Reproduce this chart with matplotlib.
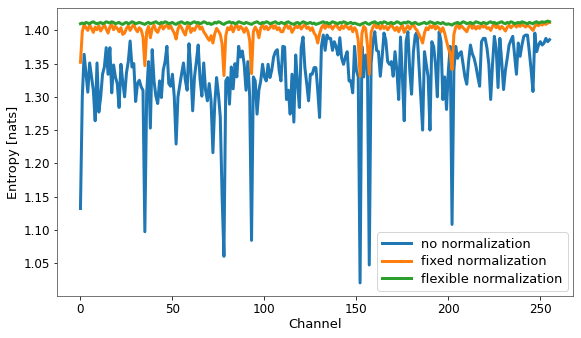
import matplotlib
matplotlib.use("Agg")
import matplotlib.pyplot as plt
import numpy as np

# Entropy per channel
no_norm = [
    1.132, 1.300, 1.364, 1.335, 1.307, 1.351, 1.330, 1.310, 1.264, 1.351, 1.277, 1.300, 1.334, 1.345, 1.374, 1.334,
    1.374, 1.306, 1.348, 1.330, 1.320, 1.284, 1.349, 1.322, 1.300, 1.336, 1.353, 1.384, 1.345, 1.350, 1.293, 1.320,
    1.325, 1.315, 1.310, 1.097, 1.305, 1.353, 1.253, 1.371, 1.324, 1.301, 1.290, 1.324, 1.299, 1.340, 1.353, 1.376,
    1.320, 1.316, 1.334, 1.300, 1.229, 1.300, 1.318, 1.335, 1.351, 1.325, 1.310, 1.380, 1.340, 1.279, 1.330, 1.353,
    1.378, 1.327, 1.301, 1.351, 1.310, 1.294, 1.320, 1.294, 1.216, 1.289, 1.329, 1.304, 1.270, 1.150, 1.060, 1.324,
    1.329, 1.289, 1.345, 1.312, 1.350, 1.330, 1.376, 1.360, 1.369, 1.349, 1.310, 1.353, 1.300, 1.084, 1.330, 1.324,
    1.274, 1.310, 1.324, 1.349, 1.330, 1.324, 1.349, 1.329, 1.340, 1.360, 1.368, 1.371, 1.340, 1.324, 1.376, 1.375,
    1.296, 1.310, 1.274, 1.334, 1.262, 1.363, 1.320, 1.284, 1.374, 1.390, 1.344, 1.320, 1.294, 1.334, 1.334, 1.344,
    1.344, 1.309, 1.269, 1.376, 1.393, 1.370, 1.393, 1.388, 1.388, 1.370, 1.383, 1.375, 1.363, 1.389, 1.358, 1.349,
    1.360, 1.368, 1.324, 1.324, 1.306, 1.376, 1.340, 1.330, 1.020, 1.376, 1.330, 1.363, 1.350, 1.047, 1.350, 1.383,
    1.398, 1.370, 1.368, 1.331, 1.360, 1.396, 1.385, 1.353, 1.349, 1.353, 1.331, 1.368, 1.340, 1.296, 1.390, 1.330,
    1.264, 1.383, 1.398, 1.340, 1.304, 1.368, 1.393, 1.397, 1.349, 1.300, 1.250, 1.368, 1.349, 1.330, 1.250, 1.383,
    1.376, 1.349, 1.300, 1.398, 1.383, 1.296, 1.330, 1.281, 1.340, 1.376, 1.108, 1.340, 1.376, 1.358, 1.365, 1.368,
    1.349, 1.330, 1.319, 1.353, 1.378, 1.365, 1.358, 1.346, 1.330, 1.316, 1.383, 1.388, 1.388, 1.373, 1.349, 1.296,
    1.349, 1.391, 1.373, 1.314, 1.388, 1.353, 1.311, 1.340, 1.358, 1.378, 1.385, 1.391, 1.363, 1.334, 1.381, 1.361,
    1.378, 1.391, 1.393, 1.393, 1.368, 1.340, 1.308, 1.396, 1.368, 1.378, 1.383, 1.378, 1.381, 1.388, 1.383, 1.386,
]

fixed_norm = [
    1.352, 1.398, 1.409, 1.404, 1.400, 1.408, 1.403, 1.397, 1.405, 1.401, 1.407, 1.399, 1.404, 1.408, 1.402, 1.396,
    1.405, 1.409, 1.401, 1.406, 1.403, 1.398, 1.404, 1.394, 1.396, 1.403, 1.407, 1.400, 1.405, 1.409, 1.402, 1.398,
    1.404, 1.401, 1.390, 1.347, 1.398, 1.406, 1.389, 1.403, 1.408, 1.400, 1.397, 1.404, 1.409, 1.402, 1.406, 1.408,
    1.403, 1.407, 1.401, 1.396, 1.387, 1.402, 1.408, 1.404, 1.398, 1.393, 1.405, 1.409, 1.397, 1.403, 1.400, 1.406,
    1.409, 1.402, 1.405, 1.398, 1.394, 1.389, 1.385, 1.392, 1.381, 1.395, 1.403, 1.399, 1.394, 1.380, 1.332, 1.392,
    1.404, 1.401, 1.407, 1.398, 1.405, 1.409, 1.401, 1.406, 1.403, 1.397, 1.404, 1.399, 1.385, 1.335, 1.398, 1.405,
    1.400, 1.389, 1.404, 1.408, 1.402, 1.406, 1.401, 1.404, 1.409, 1.403, 1.407, 1.401, 1.404, 1.398, 1.398, 1.405,
    1.409, 1.403, 1.406, 1.397, 1.402, 1.407, 1.404, 1.408, 1.402, 1.406, 1.409, 1.403, 1.405, 1.400, 1.404, 1.396,
    1.392, 1.381, 1.395, 1.404, 1.408, 1.403, 1.409, 1.405, 1.407, 1.402, 1.406, 1.409, 1.404, 1.401, 1.407, 1.403,
    1.408, 1.405, 1.402, 1.406, 1.398, 1.404, 1.400, 1.385, 1.331, 1.395, 1.406, 1.403, 1.378, 1.334, 1.397, 1.405,
    1.409, 1.404, 1.407, 1.402, 1.408, 1.403, 1.406, 1.401, 1.405, 1.409, 1.404, 1.400, 1.405, 1.398, 1.404, 1.408,
    1.397, 1.403, 1.407, 1.402, 1.406, 1.409, 1.403, 1.400, 1.394, 1.388, 1.381, 1.396, 1.404, 1.401, 1.407, 1.404,
    1.408, 1.402, 1.406, 1.403, 1.398, 1.404, 1.396, 1.384, 1.373, 1.365, 1.341, 1.394, 1.405, 1.408, 1.403, 1.407,
    1.404, 1.401, 1.398, 1.405, 1.409, 1.403, 1.407, 1.402, 1.406, 1.403, 1.409, 1.405, 1.407, 1.403, 1.404, 1.400,
    1.406, 1.409, 1.404, 1.407, 1.402, 1.406, 1.403, 1.399, 1.405, 1.408, 1.404, 1.407, 1.409, 1.405, 1.408, 1.406,
    1.409, 1.407, 1.405, 1.408, 1.406, 1.403, 1.400, 1.406, 1.409, 1.407, 1.410, 1.408, 1.411, 1.409, 1.411, 1.412,
]

flex_norm = [
    1.410, 1.411, 1.410, 1.412, 1.411, 1.410, 1.412, 1.413, 1.411, 1.410, 1.411, 1.412, 1.410, 1.411, 1.413, 1.412,
    1.411, 1.413, 1.412, 1.410, 1.411, 1.412, 1.410, 1.409, 1.411, 1.412, 1.410, 1.411, 1.413, 1.412, 1.410, 1.411,
    1.412, 1.411, 1.410, 1.409, 1.411, 1.412, 1.410, 1.411, 1.412, 1.413, 1.411, 1.410, 1.412, 1.411, 1.413, 1.412,
    1.410, 1.411, 1.412, 1.410, 1.409, 1.411, 1.412, 1.413, 1.411, 1.410, 1.412, 1.411, 1.410, 1.412, 1.413, 1.411,
    1.412, 1.410, 1.411, 1.413, 1.412, 1.410, 1.411, 1.409, 1.410, 1.412, 1.411, 1.413, 1.412, 1.410, 1.409, 1.411,
    1.412, 1.413, 1.411, 1.412, 1.410, 1.411, 1.413, 1.412, 1.411, 1.410, 1.412, 1.411, 1.410, 1.409, 1.411, 1.412,
    1.413, 1.411, 1.410, 1.412, 1.411, 1.413, 1.412, 1.410, 1.411, 1.412, 1.413, 1.411, 1.410, 1.412, 1.411, 1.410,
    1.412, 1.413, 1.411, 1.410, 1.409, 1.411, 1.412, 1.410, 1.411, 1.413, 1.412, 1.410, 1.411, 1.412, 1.410, 1.411,
    1.409, 1.410, 1.411, 1.412, 1.413, 1.411, 1.412, 1.410, 1.411, 1.413, 1.412, 1.411, 1.410, 1.412, 1.411, 1.413,
    1.412, 1.410, 1.411, 1.412, 1.410, 1.411, 1.410, 1.409, 1.408, 1.410, 1.411, 1.412, 1.410, 1.409, 1.411, 1.412,
    1.413, 1.411, 1.410, 1.412, 1.411, 1.413, 1.412, 1.410, 1.411, 1.412, 1.410, 1.411, 1.413, 1.412, 1.410, 1.411,
    1.412, 1.411, 1.413, 1.412, 1.410, 1.411, 1.412, 1.410, 1.409, 1.410, 1.411, 1.412, 1.410, 1.411, 1.413, 1.412,
    1.411, 1.410, 1.412, 1.411, 1.410, 1.412, 1.410, 1.409, 1.410, 1.409, 1.408, 1.410, 1.411, 1.412, 1.410, 1.411,
    1.413, 1.412, 1.410, 1.411, 1.412, 1.410, 1.411, 1.413, 1.412, 1.411, 1.410, 1.412, 1.411, 1.410, 1.412, 1.413,
    1.411, 1.412, 1.410, 1.411, 1.412, 1.413, 1.411, 1.410, 1.412, 1.411, 1.413, 1.412, 1.410, 1.411, 1.412, 1.411,
    1.413, 1.412, 1.411, 1.410, 1.412, 1.411, 1.410, 1.412, 1.413, 1.411, 1.412, 1.413, 1.412, 1.413, 1.414, 1.413,
]

labels = ["no normalization", "fixed normalization", "flexible normalization"]

plt.rcParams["font.size"] = 13

fig = plt.figure(figsize=(581 / 72, 338 / 72), dpi=72)
ax = fig.add_axes([57 / 581, 1 - 296 / 338, (573 - 57) / 581, (296 - 8) / 338])

channels = np.arange(len(no_norm))
for series, label in zip([no_norm, fixed_norm, flex_norm], labels):
    ax.plot(channels, series, linewidth=3, label=label)

ax.tick_params(labelsize=12)
ax.set_xlabel("Channel", fontsize=13, labelpad=2)
ax.set_ylabel("Entropy [nats]", fontsize=13, labelpad=4)
for spine in ax.spines.values():
    spine.set_color("#555555")
ax.legend(loc="lower right", fontsize=13, handlelength=2.2,
          borderaxespad=0.4, labelspacing=0.35)

fig.savefig("out.png", dpi=72)
